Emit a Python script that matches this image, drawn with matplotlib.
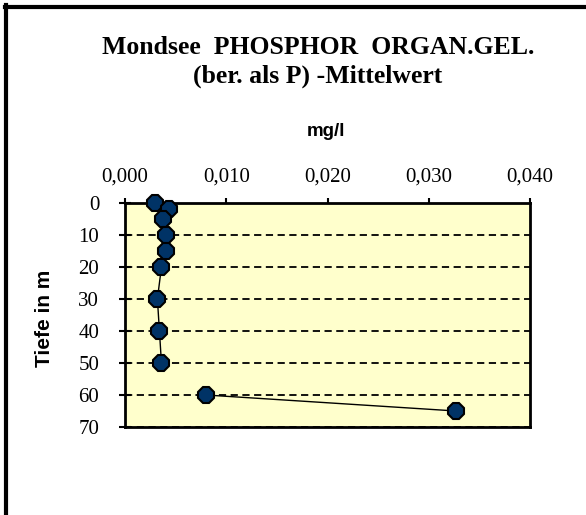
import matplotlib
matplotlib.use("Agg")
import matplotlib.pyplot as plt
from matplotlib.ticker import FuncFormatter
from matplotlib.lines import Line2D
import numpy as np

# depth profile, NaN marks the gap in the line between 50 and 60 m
tiefe = [0, 2, 5, 10, 15, 20, 30, 40, 50, 55, 60, 65]
wert = [0.0030, 0.0043, 0.0038, 0.0040, 0.0040, 0.0036, 0.0032, 0.0034, 0.0036,
        np.nan, 0.0080, 0.0327]

x_ticks = [0.0, 0.01, 0.02, 0.03, 0.04]
y_ticks = [0, 10, 20, 30, 40, 50, 60, 70]

titel = "Mondsee  PHOSPHOR  ORGAN.GEL.\n(ber. als P) -Mittelwert"

fig = plt.figure(figsize=(5.86, 5.15), dpi=100)
ax = fig.add_axes([125 / 586, 1 - 427 / 515, 405 / 586, 224 / 515])
ax.set_facecolor("#FFFFCC")

ax.plot(wert, tiefe, color="black", lw=1, marker="8", ms=12.5,
        mfc="#003366", mec="black", mew=1.5, zorder=3, clip_on=False)

ax.set_xlim(0, 0.04)
ax.set_ylim(70, 0)
ax.set_xticks(x_ticks)
ax.set_yticks(y_ticks)
ax.xaxis.set_major_formatter(FuncFormatter(lambda v, p: f"{v:.3f}".replace(".", ",")))
ax.xaxis.tick_top()
ax.tick_params(axis="x", direction="out", length=3.5, width=1.5, labelsize=15, pad=8)
ax.tick_params(axis="y", direction="inout", length=9, width=1.5, labelsize=15, pad=14)
for lab in ax.get_xticklabels() + ax.get_yticklabels():
    lab.set_family("Liberation Serif")

ax.yaxis.grid(True, color="black", ls=(0, (4, 2.5)), lw=1.3)
for s in ax.spines.values():
    s.set_linewidth(2)

fig.text(45 / 586, 1 - 318 / 515, "Tiefe in m", rotation=90, ha="center", va="center",
         family="Liberation Sans", weight="bold", fontsize=15)
fig.text(326 / 586, 1 - 131 / 515, "mg/l", ha="center", va="center",
         family="Liberation Sans", weight="bold", fontsize=13.5)
fig.text(318 / 586, 1 - 62 / 515, titel, ha="center", va="center", family="Liberation Serif",
         weight="bold", fontsize=18.5, linespacing=1.35)

# frame lines on top and left of the chart area
fig.add_artist(Line2D([0.008, 1], [0.987, 0.987], color="black", lw=3))
fig.add_artist(Line2D([0.01, 0.01], [0, 0.99], color="black", lw=3))

fig.savefig("out.png", dpi=100)
